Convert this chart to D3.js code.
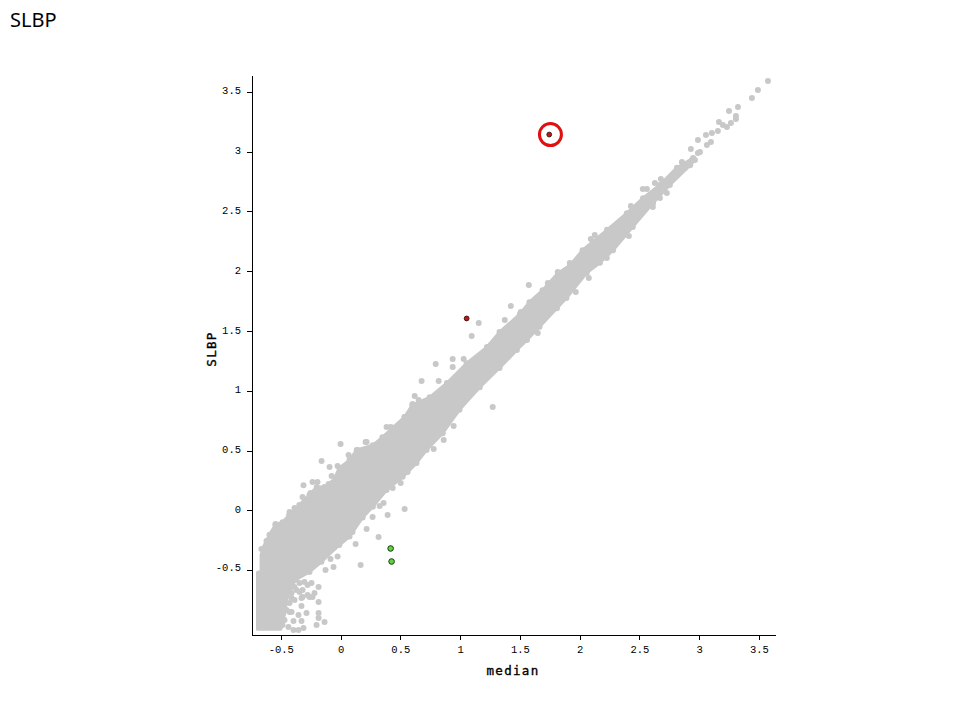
<!DOCTYPE html>
<html><head><meta charset="utf-8">
<script src="https://cdn.jsdelivr.net/npm/d3@7/dist/d3.min.js"></script>
<style>
html,body{margin:0;padding:0;background:#fff}
svg{display:block}
.tick text{font-family:"Liberation Mono",monospace;font-size:10.5px;fill:#000}
.axis path,.axis line{stroke:#000;stroke-width:1;shape-rendering:crispEdges}
.lab{font-family:"DejaVu Sans Mono",monospace;font-size:12.5px;fill:#000;stroke:#000;stroke-width:0.35px;letter-spacing:1.3px}
</style></head><body><svg id="c" width="960" height="720"></svg>
<script>
const title = "SLBP", xLabel = "median", yLabel = "SLBP";
const xTicks = [-0.5,0,0.5,1,1.5,2,2.5,3,3.5];
const yTicks = [-0.5,0,0.5,1,1.5,2,2.5,3,3.5];
// Outline of the solid cloud: [median, SLBP]
const cloudUpper = [[-0.695,-0.52],[-0.665,-0.51],[-0.665,-0.374],[-0.65,-0.315],[-0.595,-0.205],[-0.545,-0.12],[-0.485,-0.10],[-0.43,-0.04],[-0.345,0.045],[-0.26,0.13],[-0.20,0.195],[-0.135,0.195],[-0.065,0.235],[-0.01,0.355],[0.075,0.42],[0.135,0.505],[0.27,0.545],[0.35,0.61],[0.435,0.69],[0.535,0.78],[0.60,0.88],[0.745,0.945],[0.89,1.065],[1.055,1.23],[1.225,1.365],[1.33,1.49],[1.50,1.64],[1.58,1.74],[1.69,1.84],[1.82,1.985],[1.92,2.05],[2.025,2.175],[2.23,2.345],[2.395,2.485],[2.53,2.61],[2.67,2.72],[2.815,2.865],[2.95,2.945]];
const cloudLower = [[2.965,2.93],[2.925,2.885],[2.755,2.72],[2.615,2.57],[2.445,2.37],[2.28,2.175],[2.17,2.07],[2.06,1.985],[1.89,1.775],[1.81,1.69],[1.665,1.535],[1.56,1.425],[1.475,1.34],[1.33,1.19],[1.165,1.03],[0.995,0.84],[0.855,0.645],[0.72,0.505],[0.635,0.395],[0.52,0.28],[0.385,0.17],[0.27,0.03],[0.185,-0.06],[0.075,-0.22],[-0.01,-0.29],[-0.16,-0.43],[-0.26,-0.515],[-0.375,-0.58],[-0.425,-0.665],[-0.45,-0.75],[-0.47,-0.875],[-0.50,-0.995],[-0.695,-0.995]];
// Individually visible grey points: [median, SLBP]
const greyPoints = [[-0.31,0.21],[-0.427,-0.014],[-0.544,-0.115],[-0.62,-0.257],[-0.662,-0.324],[0.503,0.228],[0.536,0.011],[0.394,-0.039],[0.318,-0.223],[0.168,-0.457],[0.126,-0.282],[-0.059,-0.474],[-0.126,-0.499],[-0.184,-0.641],[-0.184,-0.767],[-0.184,-0.859],[-0.184,-0.90],[-0.134,-0.934],[-0.201,-0.959],[-0.285,-0.859],[-0.352,-0.875],[-0.327,-0.80],[-0.394,-0.926],[-0.327,-0.926],[-0.436,-0.976],[-0.394,-1.001],[-0.352,-1.001],[-0.31,-0.984],[-0.218,-0.691],[-0.26,-0.725],[-0.318,-0.725],[-0.276,-0.625],[-0.385,-0.641],[-0.343,-0.683],[-0.41,-0.733],[-0.427,-0.85],[0,0.554],[-0.159,0.412],[-0.092,0.362],[0.067,0.462],[-0.235,0.237],[-0.193,0.237],[-0.025,0.37],[-0.075,0.287],[-0.10,0.22],[-0.318,0.111],[-0.251,0.145],[-0.385,0.019],[0.218,0.571],[0.142,0.504],[0.385,0.696],[0.419,0.696],[0.779,0.513],[0.436,0.186],[0.561,0.32],[0.628,0.404],[-0.025,-0.387],[0.218,-0.156],[0.268,-0.056],[0.327,0.036],[0.36,0.061],[0.10,-0.181],[-0.084,-0.407],[1.575,1.884],[1.734,1.90],[1.424,1.708],[1.156,1.566],[1.097,1.457],[1.508,1.658],[1.374,1.591],[0.796,1.223],[0.938,1.265],[1.03,1.265],[0.938,1.198],[0.678,1.081],[0.821,1.081],[0.62,0.956],[0.653,0.922],[0.603,0.889],[1.273,0.864],[0.946,0.705],[0.863,0.588],[1.65,1.482],[0.209,0.571],[0.536,0.78],[1.817,1.992],[1.918,2.068],[2.127,2.302],[2.094,2.268],[2.077,1.942],[1.968,1.825],[2.228,2.11],[3.576,3.589],[3.492,3.514],[3.442,3.447],[3.325,3.372],[3.25,3.339],[3.308,3.297],[3.308,3.272],[3.266,3.238],[3.233,3.205],[3.166,3.247],[3.199,3.222],[3.157,3.172],[3.107,3.155],[3.057,3.138],[2.99,3.096],[3.099,3.079],[3.065,3.054],[3.007,2.996],[2.99,2.987],[2.931,3.021],[2.856,2.912],[2.68,2.77],[2.63,2.737],[2.529,2.686],[2.563,2.686],[2.429,2.544],[2.613,2.536],[2.412,2.293],[2.236,2.335],[2.672,2.611],[2.73,2.653],[2.94,2.929],[2.881,2.862],[2.781,2.787],[-0.402,-0.583],[-0.343,-0.608],[-0.302,-0.60],[-0.243,-0.608],[-0.369,-0.666],[-0.318,-0.666],[-0.41,-0.691],[-0.276,-0.708],[-0.235,-0.725],[-0.327,-0.733],[-0.385,-0.75],[-0.427,-0.775],[-0.452,-0.834],[-0.41,-0.85],[-0.469,-0.917],[-0.486,-0.959]];
const redPoints = [[1.746,3.142],[1.055,1.604]];
const greenPoints = [[0.419,-0.319],[0.427,-0.428]];
const ringPoint = [1.756,3.142];

const svg = d3.select("#c");
const x = d3.scaleLinear().domain([-0.741,3.635]).range([252,775]);
const y = d3.scaleLinear().domain([-1.0426,3.64]).range([635,75]);
const grey = "#c8c8c8";

svg.append("text").attr("x",10).attr("y",27)
  .attr("font-family","'Noto Sans',sans-serif").attr("font-size",20).attr("fill","#000").text(title);

const line = d3.line().x(d=>x(d[0])).y(d=>y(d[1])).curve(d3.curveLinearClosed);
svg.append("path").datum(cloudUpper.concat(cloudLower)).attr("d",line)
  .attr("fill",grey).attr("stroke",grey).attr("stroke-width",3).attr("stroke-linejoin","round");

svg.append("g").selectAll("circle").data(greyPoints.concat(cloudUpper.slice(4),cloudLower.slice(0,-4))).join("circle")
  .attr("cx",d=>x(d[0])).attr("cy",d=>y(d[1])).attr("r",3).attr("fill",grey);

svg.append("g").selectAll("circle").data(redPoints).join("circle")
  .attr("cx",d=>x(d[0])).attr("cy",d=>y(d[1])).attr("r",2.4).attr("fill","#c01818").attr("stroke","#301010").attr("stroke-width",0.9);
svg.append("g").selectAll("circle").data(greenPoints).join("circle")
  .attr("cx",d=>x(d[0])).attr("cy",d=>y(d[1])).attr("r",2.8).attr("fill","#66d045").attr("stroke","#143a10").attr("stroke-width",1);
svg.append("circle").attr("cx",x(ringPoint[0])).attr("cy",y(ringPoint[1])).attr("r",11)
  .attr("fill","none").attr("stroke","#e01010").attr("stroke-width",3);

const fmt = d => d3.format("")(d).replace("\u2212","-");
const gx = svg.append("g").attr("class","axis").attr("transform","translate(0,635)")
  .call(d3.axisBottom(x).tickValues(xTicks).tickFormat(fmt).tickSize(5).tickSizeOuter(0).tickPadding(6));
const gy = svg.append("g").attr("class","axis").attr("transform","translate(252,0)")
  .call(d3.axisLeft(y).tickValues(yTicks).tickFormat(fmt).tickSize(5).tickSizeOuter(0).tickPadding(6));
gy.selectAll(".tick text").attr("dy",d=>d<0?"0":"0.2em");

svg.append("text").attr("class","lab").attr("x",513).attr("y",675).attr("text-anchor","middle").text(xLabel);
svg.append("text").attr("class","lab").attr("transform","translate(216,349) rotate(-90)").attr("text-anchor","middle").text(yLabel);
</script></body></html>
